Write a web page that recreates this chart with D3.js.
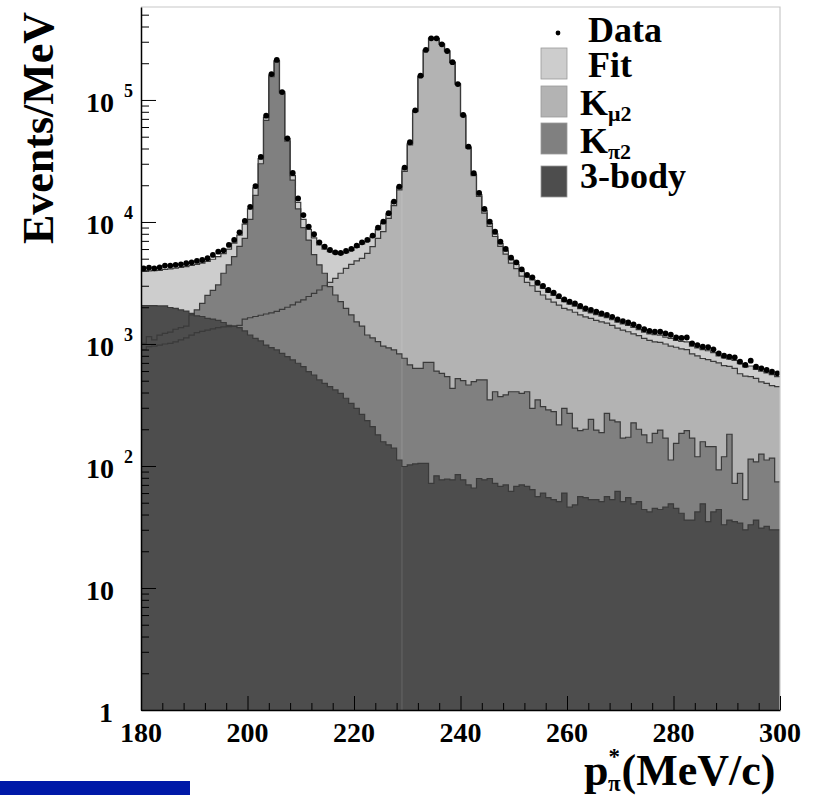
<!DOCTYPE html>
<html>
<head>
<meta charset="utf-8">
<script src="https://cdn.jsdelivr.net/npm/d3@7"></script>
<style>
  body { margin: 0; background: #fff; }
  svg { display: block; }
  text { font-family: "Liberation Serif", "Times New Roman", serif; font-weight: bold; fill: #000; }
</style>
</head>
<body>
<div id="chart"></div>
<script>
// histogram: 1 MeV bins from 180 to 300 MeV/c
const binStart = 180;
const binWidth = 1;

const dataCounts = [
  4170, 4230, 4170, 4250, 4390, 4390, 4450, 4500, 4590, 4670,
  4790, 4880, 5040, 5370, 5710, 5860, 6480, 7120, 8230, 10190,
  13300, 19700, 34100, 74400, 163000, 213000, 116000, 48500, 25200, 15600,
  11400, 9160, 7930, 6810, 6280, 5890, 5640, 5570, 5780, 6010,
  6400, 6810, 7120, 7730, 8980, 10060, 11800, 14700, 19500, 27900,
  45000, 82300, 158000, 257000, 320000, 320000, 286000, 252000, 204000, 135000,
  75300, 41400, 25100, 17300, 12800, 10060, 8330, 6900, 6010, 5100,
  4670, 4090, 3680, 3520, 3180, 2990, 2770, 2630, 2470, 2320,
  2220, 2150, 2050, 1960, 1900, 1840, 1780, 1730, 1670, 1590,
  1540, 1500, 1450, 1390, 1320, 1280, 1260, 1260, 1220, 1190,
  1130, 1120, 1130, 1010, 980, 950, 940, 904, 838, 802,
  787, 778, 716, 673, 730, 652, 632, 612, 593, 575
];

const fitCounts = [
  3960, 3980, 3990, 4010, 4080, 4120, 4180, 4240, 4310, 4400,
  4500, 4600, 4750, 4950, 5200, 5500, 6000, 6700, 7800, 9600,
  12800, 19000, 33000, 72000, 160000, 210000, 117000, 48000, 24000, 14500,
  10500, 8700, 7400, 6500, 6000, 5700, 5500, 5450, 5600, 5850,
  6200, 6600, 6950, 7550, 8700, 9800, 11600, 14600, 19300, 27200,
  44000, 81000, 157000, 256000, 322000, 320000, 288000, 253000, 204000, 136000,
  75000, 41000, 24500, 16800, 12400, 9700, 8000, 6650, 5800, 4950,
  4500, 3950, 3550, 3350, 3050, 2850, 2650, 2500, 2360, 2220,
  2120, 2040, 1950, 1860, 1800, 1740, 1690, 1640, 1580, 1510,
  1460, 1420, 1370, 1310, 1250, 1210, 1190, 1180, 1140, 1110,
  1070, 1050, 1040, 960, 930, 900, 880, 850, 800, 770,
  750, 735, 690, 650, 660, 620, 600, 580, 560, 540
];

const kmu2Counts = [
  900, 950, 960, 980, 1000, 1010, 1040, 1080, 1120, 1180,
  1240, 1270, 1300, 1330, 1360, 1380, 1390, 1400, 1420, 1600,
  1640, 1680, 1720, 1760, 1800, 1850, 1920, 2000, 2090, 2200,
  2300, 2450, 2600, 2770, 3000, 3200, 3450, 3800, 4170, 4500,
  4800, 5040, 5530, 6280, 7350, 8330, 10700, 13600, 18300, 26000,
  42800, 80100, 155000, 255000, 320000, 318000, 286000, 251000, 202000, 134000,
  74000, 40300, 24000, 16200, 11800, 9200, 7600, 6300, 5450, 4600,
  4150, 3600, 3200, 3000, 2700, 2520, 2330, 2200, 2080, 1960,
  1900, 1820, 1730, 1670, 1620, 1560, 1520, 1480, 1420, 1350,
  1300, 1260, 1210, 1170, 1110, 1070, 1040, 1030, 1000, 960,
  940, 910, 900, 830, 800, 760, 745, 720, 700, 665,
  655, 632, 570, 545, 540, 523, 490, 476, 455, 447
];

const kpi2Counts = [
  1010, 1150, 1080, 1180, 1220, 1250, 1320, 1360, 1400, 1730,
  1900, 2150, 2500, 2750, 3050, 3800, 4450, 5200, 6300, 7350,
  10500, 16500, 30000, 68000, 155000, 207000, 114000, 46000, 22000, 12800,
  9000, 7100, 5400, 4450, 3800, 2950, 2520, 2220, 1960, 1730,
  1520, 1400, 1185, 1120, 1045, 960, 930, 894, 830, 764,
  673, 632, 632, 706, 706, 600, 575, 540, 433, 520,
  500, 461, 491, 507, 507, 348, 406, 370, 382, 406,
  406, 394, 406, 297, 348, 306, 288, 279, 217, 297,
  270, 204, 195, 200, 241, 197, 188, 270, 238, 230,
  169, 172, 226, 200, 180, 155, 185, 197, 169, 112,
  153, 185, 195, 169, 119, 158, 144, 144, 93, 119,
  182, 72, 87, 53, 114, 108, 125, 112, 116, 74
];

const threeBodyCounts = [
  2060, 2060, 2060, 2050, 2050, 1990, 1960, 1900, 1860, 1780,
  1700, 1680, 1620, 1600, 1560, 1500, 1420, 1400, 1360, 1280,
  1185, 1110, 1060, 980, 933, 894, 838, 787, 740, 695,
  652, 593, 557, 507, 476, 447, 420, 394, 359, 326,
  297, 265, 235, 210, 180, 158, 149, 140, 112, 99,
  102, 104, 105, 105, 72, 83, 77, 78, 77, 85,
  77, 70, 66, 79, 77, 79, 72, 68, 70, 62,
  68, 70, 68, 64, 56, 60, 55, 53, 51, 60,
  46, 48, 56, 55, 53, 53, 51, 56, 53, 62,
  51, 55, 49, 51, 44, 42, 45, 44, 46, 49,
  45, 41, 36, 36, 42, 49, 35, 42, 44, 33,
  36, 35, 34, 30, 33, 36, 31, 32, 30, 30
];

const xTickValues = [180, 200, 220, 240, 260, 280, 300];
const yDecades = [1, 10, 100, 1000, 10000, 100000];
const legendLabels = ["Data", "Fit", "K", "K", "3-body"];
const legendSubs = ["", "", "\u03bc2", "\u03c02", ""];
const legendFills = [null, "#cdcdcd", "#b3b3b3", "#808080", "#4d4d4d"];

const W = 814, H = 795;
const plot = { left: 141, right: 780, top: 7, bottom: 710 };

const svg = d3.select("#chart").append("svg")
  .attr("width", W).attr("height", H)
  .attr("viewBox", `0 0 ${W} ${H}`);

const x = d3.scaleLinear().domain([180, 300]).range([plot.left, plot.right]);
const y = d3.scaleLog().domain([1, 5.78e5]).range([plot.bottom, plot.top]);

svg.append("clipPath").attr("id", "clip")
  .append("rect")
  .attr("x", plot.left).attr("y", plot.top)
  .attr("width", plot.right - plot.left).attr("height", plot.bottom - plot.top);

const series = [
  { counts: fitCounts, fill: legendFills[1] },
  { counts: kmu2Counts, fill: legendFills[2] },
  { counts: kpi2Counts, fill: legendFills[3] },
  { counts: threeBodyCounts, fill: legendFills[4] }
];

function stepPoints(counts) {
  const pts = [];
  counts.forEach((v, i) => {
    const lo = binStart + i * binWidth;
    pts.push({ x: lo, v }, { x: lo + binWidth, v });
  });
  return pts;
}

const area = d3.area().x(d => x(d.x)).y0(y(1)).y1(d => y(d.v));
const line = d3.line().x(d => x(d.x)).y(d => y(d.v));

const g = svg.append("g").attr("clip-path", "url(#clip)");

// fills first, in drawing order
g.selectAll("path.fill")
  .data(series)
  .join("path")
  .attr("class", "fill")
  .attr("d", d => area(stepPoints(d.counts)))
  .attr("fill", d => d.fill);

// faint seam seen in the original plot
g.append("line")
  .attr("x1", x(229)).attr("x2", x(229))
  .attr("y1", y(1)).attr("y2", y(kmu2Counts[48]))
  .attr("stroke", "#fff").attr("stroke-opacity", 0.12).attr("stroke-width", 1.2);

// outlines on top of every fill
g.selectAll("path.outline")
  .data(series)
  .join("path")
  .attr("class", "outline")
  .attr("d", d => line(stepPoints(d.counts)))
  .attr("fill", "none")
  .attr("stroke", "#3a3a3a")
  .attr("stroke-width", 1.2);

// data points
g.selectAll("circle.data")
  .data(dataCounts)
  .join("circle")
  .attr("class", "data")
  .attr("cx", (d, i) => x(binStart + (i + 0.5) * binWidth))
  .attr("cy", d => y(d))
  .attr("r", 2.9)
  .attr("fill", "#000");

// frame
svg.append("path")
  .attr("d", `M${plot.left},${plot.top}H${plot.right}V${plot.bottom}`)
  .attr("fill", "none").attr("stroke", "#c8c8c8").attr("stroke-width", 1.2);

// y axis
const yMinor = [];
for (let e = 0; e <= 5; e++) {
  for (let k = 2; k <= 9; k++) {
    const v = k * Math.pow(10, e);
    if (v < y.domain()[1]) yMinor.push(v);
  }
}
svg.append("g")
  .attr("transform", `translate(${plot.left},0)`)
  .call(d3.axisLeft(y).tickValues(yMinor).tickSize(-8).tickFormat(""))
  .call(a => a.select(".domain").remove())
  .selectAll("line").attr("stroke", "#000").attr("stroke-width", 1);

svg.append("g")
  .attr("transform", `translate(${plot.left},0)`)
  .call(d3.axisLeft(y).tickValues(yDecades).tickSize(-15).tickSizeOuter(0).tickFormat(""))
  .call(a => a.select(".domain").attr("stroke", "#000").attr("stroke-width", 1.5))
  .selectAll("line").attr("stroke", "#000").attr("stroke-width", 1);

const yLab = svg.append("g");
yDecades.forEach(v => {
  const e = Math.round(Math.log10(v));
  const yy = y(v);
  yLab.append("text")
    .attr("x", e === 0 ? 113 : 114).attr("y", yy + 12)
    .attr("text-anchor", "end").attr("font-size", 28)
    .text(e === 0 ? "1" : "10");
  if (e >= 2) {
    yLab.append("text")
      .attr("x", 124).attr("y", yy - 3)
      .attr("font-size", 18)
      .text(e);
  }
});

// x axis
const xMinor = d3.range(180, 301, 4).filter(v => v % 20 !== 0);
svg.append("g")
  .attr("transform", `translate(0,${plot.bottom})`)
  .call(d3.axisBottom(x).tickValues(xMinor).tickSize(-7).tickFormat(""))
  .call(a => a.select(".domain").remove())
  .selectAll("line").attr("stroke", "#000").attr("stroke-width", 1);

svg.append("g")
  .attr("transform", `translate(0,${plot.bottom})`)
  .call(d3.axisBottom(x).tickValues(xTickValues).tickSize(-14).tickSizeOuter(0).tickFormat(""))
  .call(a => a.select(".domain").attr("stroke", "#000").attr("stroke-width", 1.5))
  .selectAll("line").attr("stroke", "#000").attr("stroke-width", 1);

svg.append("g").selectAll("text")
  .data(xTickValues)
  .join("text")
  .attr("x", d => x(d)).attr("y", 742)
  .attr("text-anchor", "middle").attr("font-size", 28)
  .text(d => d);

// axis titles
svg.append("text")
  .attr("transform", "translate(53,128) rotate(-90)")
  .attr("text-anchor", "middle").attr("font-size", 44)
  .text("Events/MeV");

const xt = svg.append("text").attr("x", 584).attr("y", 785).attr("font-size", 44);
xt.append("tspan").text("p");
xt.append("tspan").attr("font-size", 23).attr("dy", -21).text("*");
xt.append("tspan").attr("font-size", 23).attr("dx", -12).attr("dy", 27).text("\u03c0");
xt.append("tspan").attr("dx", 1).attr("dy", -6).text("(MeV/c)");

// legend
const rowBase = [42, 77, 115, 153, 188];
const rowBox = [null, 48, 86, 123, 166];
const leg = svg.append("g");
legendLabels.forEach((name, i) => {
  if (i === 0) {
    leg.append("circle").attr("cx", 558).attr("cy", 33).attr("r", 2.4).attr("fill", "#000");
  } else {
    leg.append("rect")
      .attr("x", 541).attr("y", rowBox[i]).attr("width", 26).attr("height", 31)
      .attr("fill", legendFills[i]).attr("stroke", "#9a9a9a").attr("stroke-width", 0.8);
  }
  const t = leg.append("text")
    .attr("x", i < 2 ? 588 : 580).attr("y", rowBase[i])
    .attr("font-size", 36).text(name);
  if (legendSubs[i]) {
    t.append("tspan").attr("font-size", 22).attr("dy", 6).text(legendSubs[i]);
  }
});

// blue bar at the bottom-left of the page
svg.append("rect")
  .attr("x", 0).attr("y", 781).attr("width", 190).attr("height", 14)
  .attr("fill", "#0019a8");
</script>
</body>
</html>
